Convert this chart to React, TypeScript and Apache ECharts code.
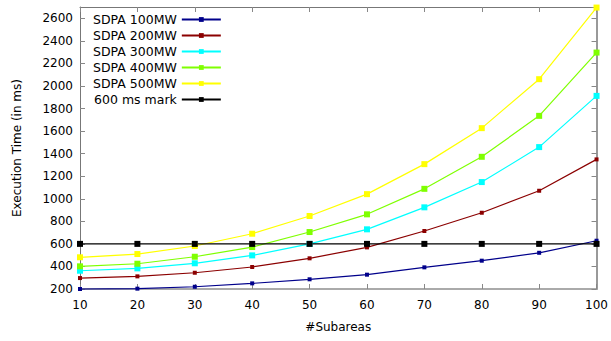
import React, { useEffect, useRef } from "react";
import * as echarts from "echarts";

const subareas = [10, 20, 30, 40, 50, 60, 70, 80, 90, 100];
const sdpa100 = [200, 203, 220, 250, 286, 327, 392, 451, 521, 628];
const sdpa200 = [297, 312, 344, 395, 472, 569, 714, 876, 1071, 1349];
const sdpa300 = [362, 383, 428, 498, 600, 729, 924, 1148, 1458, 1912];
const sdpa400 = [401, 424, 486, 572, 705, 862, 1088, 1372, 1735, 2296];
const sdpa500 = [481, 510, 581, 690, 847, 1041, 1307, 1626, 2060, 2695];
const mark600 = [600, 600, 600, 600, 600, 600, 600, 600, 600, 600];

const seriesDefs = [
  { name: "SDPA 100MW", data: sdpa100, color: "#00008b", size: 4 },
  { name: "SDPA 200MW", data: sdpa200, color: "#8b0000", size: 4 },
  { name: "SDPA 300MW", data: sdpa300, color: "#00ffff", size: 6 },
  { name: "SDPA 400MW", data: sdpa400, color: "#7fff00", size: 6 },
  { name: "SDPA 500MW", data: sdpa500, color: "#ffff00", size: 6 },
  { name: "600 ms mark", data: mark600, color: "#000000", size: 6 },
];

const FONT = "DejaVu Sans";

export default function App() {
  const ref = useRef<HTMLDivElement>(null);
  useEffect(() => {
    if (!ref.current) return;
    const chart = echarts.init(ref.current, null, { renderer: "svg" });
    const tickStyle = { show: true, inside: true, length: 5, lineStyle: { color: "#888", width: 1 } };
    chart.setOption({
      animation: false,
      backgroundColor: "#ffffff",
      textStyle: { fontFamily: FONT },
      grid: { left: 80, right: 14, top: 7, bottom: 52, containLabel: false },
      legend: {
        orient: "vertical",
        align: "right",
        left: 93,
        top: 13,
        padding: 0,
        itemWidth: 39,
        itemHeight: 6,
        itemGap: 3,
        textStyle: { fontFamily: FONT, fontSize: 12.5, color: "#000" },
        data: seriesDefs.map((s) => s.name),
      },
      xAxis: [
        {
          type: "value",
          min: 10,
          max: 100,
          interval: 10,
          name: "#Subareas",
          nameLocation: "middle",
          nameGap: 32,
          nameTextStyle: { fontFamily: FONT, fontSize: 12, color: "#000" },
          axisLine: { show: true, lineStyle: { color: "#aaa", width: 2 } },
          axisTick: tickStyle,
          axisLabel: { margin: 10, fontFamily: FONT, fontSize: 12, color: "#000" },
          splitLine: { show: false },
        },
        {
          type: "value",
          position: "top",
          min: 10,
          max: 100,
          interval: 10,
          axisLine: { show: true, lineStyle: { color: "#777", width: 1 } },
          axisTick: tickStyle,
          axisLabel: { show: false },
          splitLine: { show: false },
        },
      ],
      yAxis: [
        {
          type: "value",
          min: 200,
          max: 2700,
          interval: 200,
          name: "Execution Time (in ms)",
          nameLocation: "middle",
          nameGap: 57,
          nameTextStyle: { fontFamily: FONT, fontSize: 12, color: "#000" },
          axisLine: { show: true, lineStyle: { color: "#777", width: 1 } },
          axisTick: tickStyle,
          axisLabel: {
            margin: 7,
            fontFamily: FONT,
            fontSize: 12,
            color: "#000",
            showMaxLabel: false,
            formatter: (v: number) => (v > 2600 ? "" : String(v)),
          },
          splitLine: { show: false },
        },
        {
          type: "value",
          position: "right",
          min: 200,
          max: 2700,
          interval: 200,
          axisLine: { show: true, lineStyle: { color: "#999", width: 2 } },
          axisTick: tickStyle,
          axisLabel: { show: false },
          splitLine: { show: false },
        },
      ],
      series: seriesDefs.map((s) => ({
        name: s.name,
        type: "line",
        xAxisIndex: 0,
        yAxisIndex: 0,
        data: subareas.map((x, i) => [x, s.data[i]]),
        symbol: "rect",
        symbolSize: s.size,
        showSymbol: true,
        clip: false,
        itemStyle: { color: s.color },
        lineStyle: { color: s.color, width: 1.2 },
        emphasis: { disabled: true },
      })),
    });
    return () => chart.dispose();
  }, []);
  return (
    <div
      ref={ref}
      style={{ position: "fixed", left: 0, top: 0, width: 611, height: 341 }}
    />
  );
}
